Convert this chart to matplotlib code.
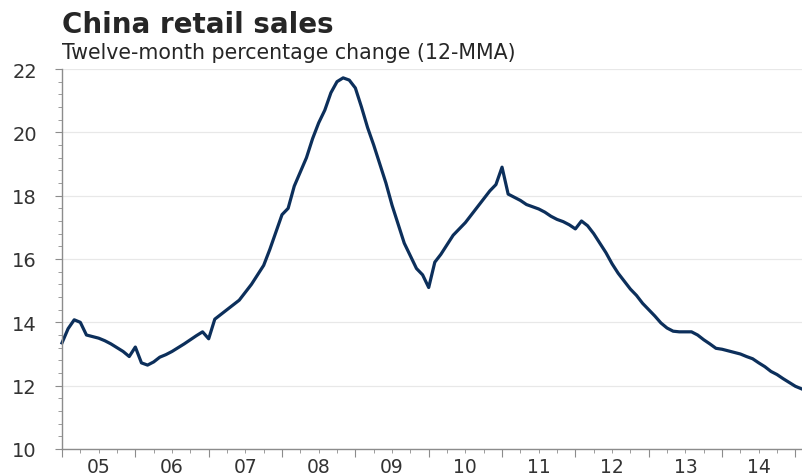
import numpy as np
import matplotlib.pyplot as plt
import matplotlib.transforms as mtransforms
from matplotlib.ticker import FixedLocator, MultipleLocator, NullFormatter

# monthly 12-MMA, Jan 2005 .. Feb 2015
start_year = 2005
retail_sales = [
    13.35, 13.80, 14.08, 14.00, 13.60, 13.55, 13.50, 13.42, 13.32, 13.20, 13.08, 12.92,  # 2005
    13.22, 12.72, 12.65, 12.75, 12.90, 12.98, 13.08, 13.20, 13.32, 13.45, 13.58, 13.70,  # 2006
    13.48, 14.10, 14.25, 14.40, 14.55, 14.70, 14.95, 15.20, 15.50, 15.80, 16.30, 16.85,  # 2007
    17.40, 17.60, 18.30, 18.75, 19.20, 19.80, 20.30, 20.70, 21.25, 21.60, 21.72, 21.65,  # 2008
    21.40, 20.80, 20.15, 19.60, 19.00, 18.40, 17.70, 17.10, 16.50, 16.10, 15.70, 15.50,  # 2009
    15.10, 15.90, 16.15, 16.45, 16.75, 16.95, 17.15, 17.40, 17.65, 17.90, 18.15, 18.35,  # 2010
    18.90, 18.05, 17.95, 17.85, 17.72, 17.65, 17.58, 17.48, 17.35, 17.25, 17.18, 17.08,  # 2011
    16.95, 17.20, 17.05, 16.80, 16.50, 16.20, 15.85, 15.55, 15.30, 15.05, 14.85, 14.60,  # 2012
    14.40, 14.20, 13.98, 13.82, 13.72, 13.70, 13.70, 13.70, 13.60, 13.45, 13.32, 13.18,  # 2013
    13.15, 13.10, 13.05, 13.00, 12.92, 12.85, 12.72, 12.60, 12.45, 12.35, 12.22, 12.10,  # 2014
    11.98, 11.90,
]
year_labels = ['05', '06', '07', '08', '09', '10', '11', '12', '13', '14']

x = start_year + np.arange(len(retail_sales)) / 12.0

plt.rcParams['font.family'] = ['DejaVu Sans']

fig = plt.figure(figsize=(8.02, 4.77), dpi=100)
ax = fig.add_axes([62 / 802, 1 - 450 / 477, 740 / 802, 380 / 477])

ax.plot(x, retail_sales, color='#0c2f5b', lw=2.3, solid_joinstyle='round',
        clip_on=False)

ax.set_ylim(10, 22)
ax.set_xlim(2005, 2015.09)

ax.yaxis.set_major_locator(MultipleLocator(2))
ax.yaxis.set_minor_locator(MultipleLocator(0.4))
ax.grid(axis='y', which='major', color='#e8e8e8', lw=0.9)
ax.set_axisbelow(True)

# year ticks on the boundaries, labels in the middle of each year
years = np.arange(2005, 2016)
ax.xaxis.set_major_locator(FixedLocator(years))
ax.xaxis.set_major_formatter(NullFormatter())
ax.xaxis.set_minor_locator(FixedLocator(np.arange(2005, 2015.01, 0.25)))
lab_trans = mtransforms.blended_transform_factory(ax.transData, fig.transFigure)
for i, lab in enumerate(year_labels):
    ax.text(2005.5 + i, 1 - 473 / 477, lab, transform=lab_trans,
            ha='center', va='baseline', fontsize=13.5, color='#333333')

for s in ['top', 'right']:
    ax.spines[s].set_visible(False)
for s in ['left', 'bottom']:
    ax.spines[s].set_color('#8c8c8c')
    ax.spines[s].set_linewidth(1.0)

ax.tick_params(axis='y', which='major', length=5, color='#8c8c8c',
               labelsize=14, labelcolor='#333333', pad=13)
ax.tick_params(axis='y', which='minor', length=3, color='#8c8c8c')
ax.tick_params(axis='x', which='major', length=6, color='#8c8c8c')
ax.tick_params(axis='x', which='minor', length=3, color='#8c8c8c')

fig.text(62 / 802, 1 - 25 / 477, 'China retail sales', fontsize=20,
         fontweight='bold', color='#262626', ha='left', va='center')
fig.text(62 / 802, 1 - 53 / 477, 'Twelve-month percentage change (12-MMA)',
         fontsize=14.8, color='#262626', ha='left', va='center')

fig.savefig('out.png', dpi=100)
